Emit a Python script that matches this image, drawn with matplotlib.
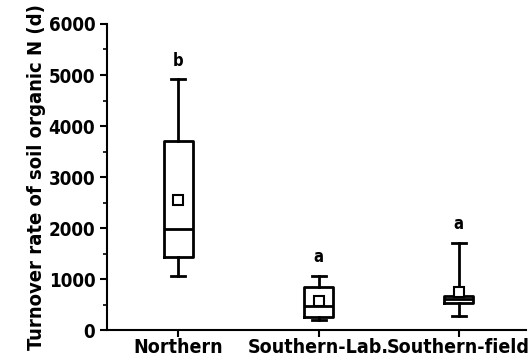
import matplotlib
matplotlib.use("Agg")
from matplotlib import pyplot as plt
from matplotlib.ticker import MultipleLocator

groups = ["Northern", "Southern-Lab.", "Southern-field"]
whislo = [1060, 200, 270]
q1 = [1430, 250, 535]
med = [1980, 470, 600]
q3 = [3710, 850, 670]
whishi = [4930, 1060, 1710]
means = [2550, 570, 750]
letters = ["b", "a", "a"]
letter_y = [5100, 1250, 1900]

plt.rcParams['font.family'] = ['DejaVu Sans']
plt.rcParams['font.stretch'] = 'condensed'
plt.rcParams['font.weight'] = 'bold'

fig = plt.figure(figsize=(5.3, 3.58), dpi=100)
ax = fig.add_axes([0.202, 0.078, 0.79, 0.855])

stats = []
for i, g in enumerate(groups):
    stats.append(dict(label=g, whislo=whislo[i], q1=q1[i], med=med[i], q3=q3[i],
                      whishi=whishi[i], mean=means[i], fliers=[]))

pos = [1, 2, 3]
ax.bxp(stats, positions=pos, widths=0.21, showmeans=True, showfliers=False,
       boxprops=dict(color='black', linewidth=2),
       medianprops=dict(color='black', linewidth=2),
       whiskerprops=dict(color='black', linewidth=2),
       capprops=dict(color='black', linewidth=2),
       capwidths=0.1,
       meanprops=dict(marker='s', markerfacecolor='white', markeredgecolor='black',
                      markersize=7, markeredgewidth=1.5))

for p, l, y in zip(pos, letters, letter_y):
    ax.text(p, y, l, ha='center', va='bottom', fontsize=12, fontweight='bold')

ax.set_xlim(0.49, 3.48)
ax.set_ylim(0, 6000)
ax.yaxis.set_major_locator(MultipleLocator(1000))
ax.yaxis.set_minor_locator(MultipleLocator(500))
ax.spines['top'].set_visible(False)
ax.spines['right'].set_visible(False)
ax.spines['left'].set_linewidth(1.5)
ax.spines['bottom'].set_linewidth(1.5)
ax.tick_params(axis='y', which='major', labelsize=13.5, width=1.5, length=5)
ax.tick_params(axis='x', which='major', labelsize=14, width=1.5, length=5, pad=1)
ax.tick_params(axis='y', which='minor', width=1.2, length=3)
for t in ax.get_xticklabels() + ax.get_yticklabels():
    t.set_fontweight('bold')
ax.set_ylabel('Turnover rate of soil organic N (d)', fontsize=14.5, fontweight='bold', labelpad=2)

plt.savefig('out.png', dpi=100)
